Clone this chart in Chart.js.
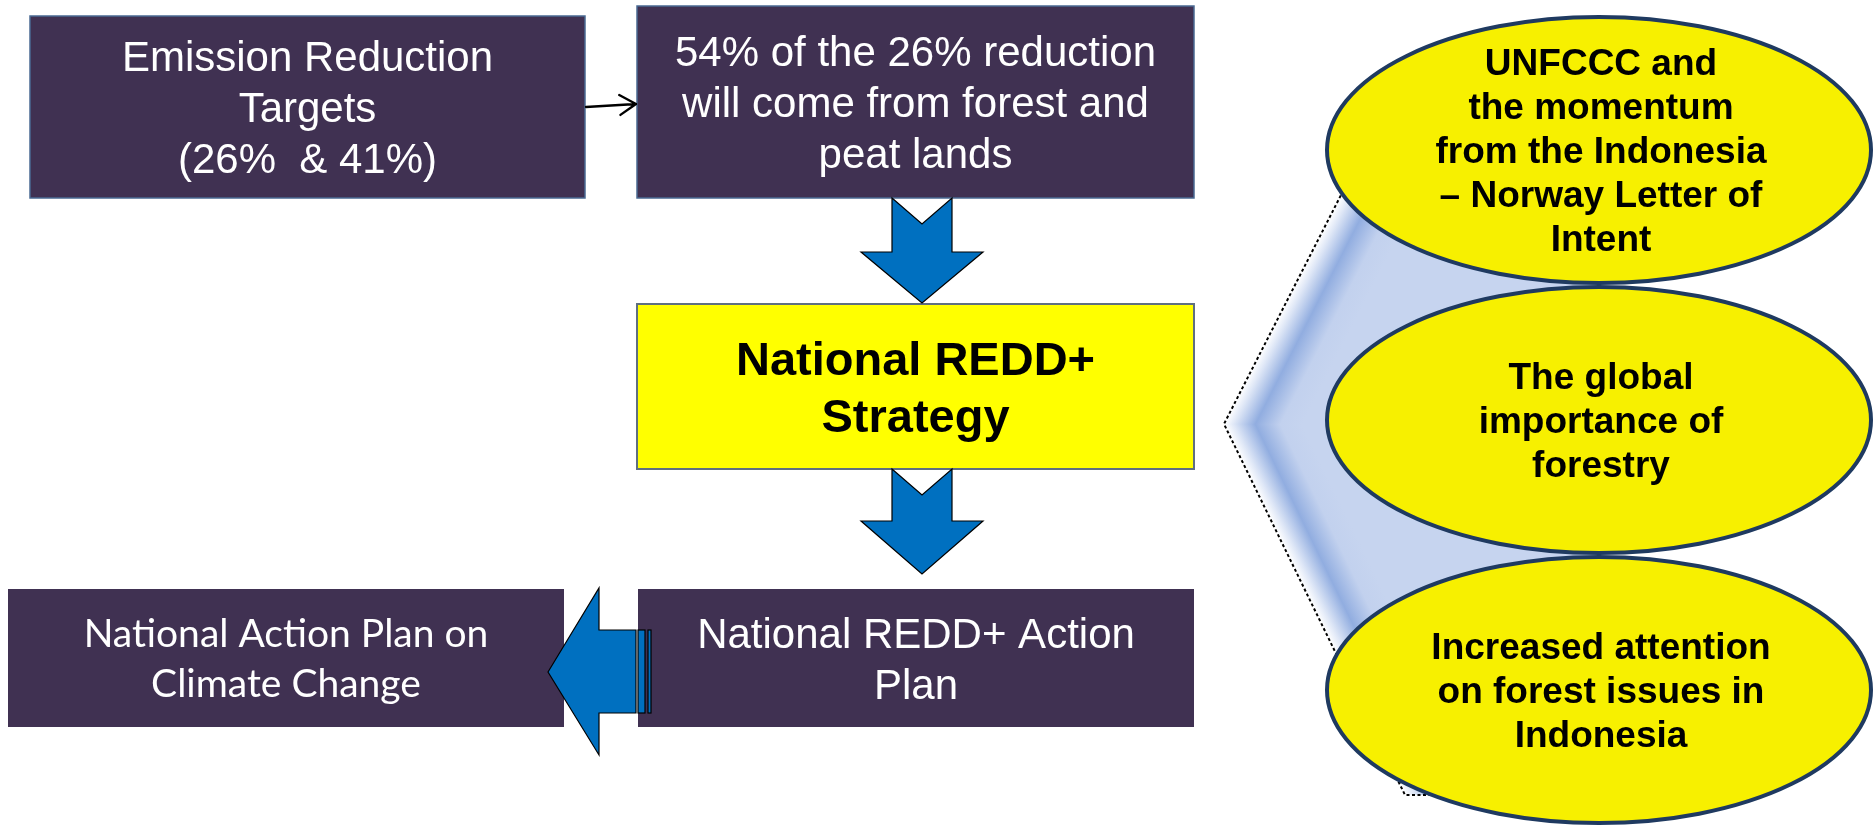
<!DOCTYPE html>
<html>
<head>
<meta charset="utf-8">
<script src="https://cdn.jsdelivr.net/npm/chart.js@4"></script>
<style>
html,body{margin:0;padding:0;background:#ffffff;overflow:hidden;}
#wrap{width:1873px;height:826px;position:relative;}
</style>
</head>
<body>
<div id="wrap"><canvas id="c"></canvas></div>
<script>
// ---- content (text) ----
const boxTexts = [
  ["Emission Reduction", "Targets", "(26%  & 41%)"],
  ["54% of the 26% reduction", "will come from forest and", "peat lands"],
  ["National REDD+", "Strategy"],
  ["National REDD+ Action", "Plan"],
  ["National Action Plan on", "Climate Change"]
];
const ellipseTexts = [
  ["UNFCCC and", "the momentum", "from the Indonesia", "\u2013 Norway Letter of", "Intent"],
  ["The global", "importance of", "forestry"],
  ["Increased attention", "on forest issues in", "Indonesia"]
];

// ---- layout (axis units, separate from content) ----
const boxRects = [[30,16,585,198],[637,6,1194,198],[637,304,1194,469],[638,589,1194,727],[8,589,564,727]];
const boxStyles = [
  {fill:'#403152', stroke:'#4a6a93', lw:1.5, font:'42px "Liberation Sans", Arial, sans-serif', color:'#ffffff', lh:51, cap:0.716},
  {fill:'#403152', stroke:'#4a6a93', lw:1.5, font:'42px "Liberation Sans", Arial, sans-serif', color:'#ffffff', lh:51, cap:0.716},
  {fill:'#ffff00', stroke:'#5f6f80', lw:2, font:'bold 47px "Liberation Sans", Arial, sans-serif', color:'#000000', lh:57, cap:0.716},
  {fill:'#403152', stroke:null, lw:0, font:'42px "Liberation Sans", Arial, sans-serif', color:'#ffffff', lh:51, cap:0.716},
  {fill:'#403152', stroke:null, lw:0, font:'39px Lato, "Open Sans", sans-serif', color:'#ffffff', lh:50, cap:0.72}
];
const ellipseGeom = [[1599,150,272,133],[1599,420,272,133],[1599,690,272,133]];
const chevron = {tip:[1224,424], top:[1364,150], bottom:[1405,795], right:1599};
const downArrows = [[922,198,252,303],[922,469,521,574]]; // cx, top, headStart, tip
const leftArrow = {tip:[548,672], headX:599, headTop:588, headBot:755, shaftTop:630, shaftBot:713, shaftEnd:636, stripes:[[638,645],[648,651]]};
const smallArrow = [[586,107],[636,104]];

const diagramPlugin = {
  id: 'diagram',
  afterDatasetsDraw(chart) {
    const ctx = chart.ctx;
    const X = v => chart.scales.x.getPixelForValue(v);
    const Y = v => chart.scales.y.getPixelForValue(v);
    ctx.save();

    // chevron background with edge-following gradient
    const T = [X(chevron.tip[0]), Y(chevron.tip[1])];
    const C = [X(chevron.top[0]), Y(chevron.top[1])];
    const B = [X(chevron.bottom[0]), Y(chevron.bottom[1])];
    const R = X(chevron.right);
    const stops = [[0,'#ffffff'],[0.12,'#e0e8f7'],[0.4,'#91ade0'],[0.72,'#c2d1ee'],[1,'#c6d4ef']];
    function half(P, poly) {
      const dx = P[0]-T[0], dy = P[1]-T[1], L = Math.hypot(dx,dy);
      let nx = -dy/L, ny = dx/L;
      if (nx < 0) { nx = -nx; ny = -ny; }
      const g = ctx.createLinearGradient(T[0], T[1], T[0]+nx*70, T[1]+ny*70);
      stops.forEach(s => g.addColorStop(s[0], s[1]));
      ctx.beginPath();
      poly.forEach((p,i) => i ? ctx.lineTo(p[0],p[1]) : ctx.moveTo(p[0],p[1]));
      ctx.closePath();
      ctx.fillStyle = g;
      ctx.fill();
    }
    half(C, [T, C, [R, C[1]], [R, T[1]]]);
    half(B, [T, [R, T[1]], [R, B[1]], B]);
    ctx.beginPath();
    ctx.moveTo(R, C[1]); ctx.lineTo(C[0], C[1]); ctx.lineTo(T[0], T[1]); ctx.lineTo(B[0], B[1]); ctx.lineTo(R, B[1]);
    ctx.setLineDash([3,2.5]);
    ctx.strokeStyle = '#000000'; ctx.lineWidth = 2;
    ctx.stroke();
    ctx.setLineDash([]);

    // ellipses
    ellipseGeom.forEach(e => {
      const cx = X(e[0]), cy = Y(e[1]);
      const rx = Math.abs(X(e[0]+e[2]) - cx), ry = Math.abs(Y(e[1]+e[3]) - cy);
      ctx.beginPath();
      ctx.ellipse(cx, cy, rx, ry, 0, 0, Math.PI*2);
      ctx.fillStyle = '#f7f000';
      ctx.fill();
      ctx.lineWidth = 4; ctx.strokeStyle = '#1f3a60';
      ctx.stroke();
    });

    // boxes
    boxRects.forEach((r, i) => {
      const s = boxStyles[i];
      const x0 = X(r[0]), y0 = Y(r[1]), x1 = X(r[2]), y1 = Y(r[3]);
      ctx.fillStyle = s.fill;
      ctx.fillRect(x0, y0, x1-x0, y1-y0);
      if (s.stroke) { ctx.lineWidth = s.lw; ctx.strokeStyle = s.stroke; ctx.strokeRect(x0, y0, x1-x0, y1-y0); }
    });

    // small connector arrow
    {
      const a = [X(smallArrow[0][0]), Y(smallArrow[0][1])], b = [X(smallArrow[1][0]), Y(smallArrow[1][1])];
      const ang = Math.atan2(b[1]-a[1], b[0]-a[0]);
      ctx.strokeStyle = '#000000'; ctx.lineWidth = 2.4; ctx.lineCap = 'round';
      ctx.beginPath(); ctx.moveTo(a[0],a[1]); ctx.lineTo(b[0],b[1]);
      [-0.55, 0.55].forEach(d => {
        ctx.moveTo(b[0],b[1]);
        ctx.lineTo(b[0] - 19*Math.cos(ang+d), b[1] - 19*Math.sin(ang+d));
      });
      ctx.stroke();
      ctx.lineCap = 'butt';
    }

    // down arrows (notched)
    downArrows.forEach(d => {
      const cx = d[0], sw = 30, hw = 61, notch = 26;
      const pts = [[cx-sw,d[1]],[cx,d[1]+notch],[cx+sw,d[1]],[cx+sw,d[2]],[cx+hw,d[2]],[cx,d[3]],[cx-hw,d[2]],[cx-sw,d[2]]];
      ctx.beginPath();
      pts.forEach((p,i) => i ? ctx.lineTo(X(p[0]),Y(p[1])) : ctx.moveTo(X(p[0]),Y(p[1])));
      ctx.closePath();
      ctx.fillStyle = '#0070c0'; ctx.fill();
      ctx.lineWidth = 1.2; ctx.strokeStyle = '#000000'; ctx.stroke();
    });

    // left striped arrow
    {
      const a = leftArrow;
      const pts = [a.tip,[a.headX,a.headTop],[a.headX,a.shaftTop],[a.shaftEnd,a.shaftTop],[a.shaftEnd,a.shaftBot],[a.headX,a.shaftBot],[a.headX,a.headBot]];
      ctx.beginPath();
      pts.forEach((p,i) => i ? ctx.lineTo(X(p[0]),Y(p[1])) : ctx.moveTo(X(p[0]),Y(p[1])));
      ctx.closePath();
      ctx.fillStyle = '#0070c0'; ctx.fill();
      ctx.lineWidth = 1.2; ctx.strokeStyle = '#000000'; ctx.stroke();
      a.stripes.forEach(s => {
        const x0 = X(s[0]), x1 = X(s[1]), y0 = Y(a.shaftTop), y1 = Y(a.shaftBot);
        ctx.fillStyle = '#0070c0'; ctx.fillRect(x0, y0, x1-x0, y1-y0);
        ctx.strokeRect(x0, y0, x1-x0, y1-y0);
      });
    }

    // texts
    function block(lines, cx, cy, font, color, lh, capRatio, size) {
      ctx.font = font; ctx.fillStyle = color; ctx.textAlign = 'center'; ctx.textBaseline = 'alphabetic';
      const first = cy - (lines.length-1)/2*lh + capRatio*size/2;
      lines.forEach((t,i) => ctx.fillText(t, cx, first + i*lh));
    }
    boxRects.forEach((r,i) => {
      const s = boxStyles[i];
      const size = parseFloat(s.font.match(/(\d+)px/)[1]);
      block(boxTexts[i], X((r[0]+r[2])/2), Y((r[1]+r[3])/2), s.font, s.color, s.lh, s.cap, size);
    });
    ellipseGeom.forEach((e,i) => {
      block(ellipseTexts[i], X(e[0]+2), Y(e[1]), 'bold 37px "Liberation Sans", Arial, sans-serif', '#000000', 44, 0.716, 36);
    });

    ctx.restore();
  }
};

new Chart(document.getElementById('c'), {
  type: 'scatter',
  data: { datasets: [{ data: [], pointRadius: 0 }] },
  options: {
    responsive: true,
    maintainAspectRatio: false,
    animation: false,
    devicePixelRatio: 1,
    layout: { padding: 0 },
    plugins: { legend: { display: false }, tooltip: { enabled: false } },
    scales: {
      x: { type: 'linear', min: 0, max: 1873, display: false },
      y: { type: 'linear', min: 0, max: 826, reverse: true, display: false }
    }
  },
  plugins: [diagramPlugin]
});
</script>
</body>
</html>
